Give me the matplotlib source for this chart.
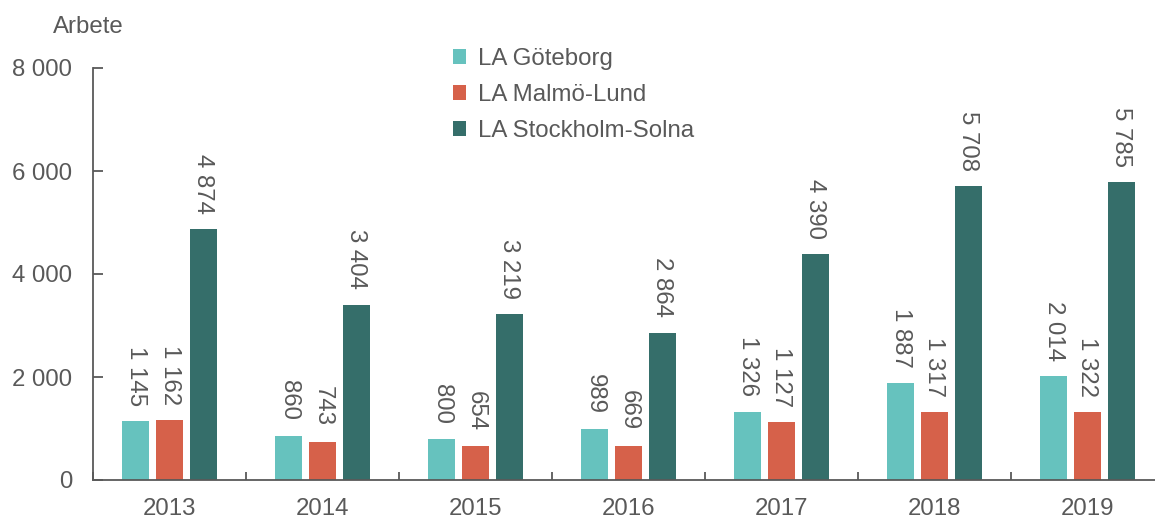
import numpy as np
import matplotlib.pyplot as plt

plt.rcParams['font.family'] = ['Liberation Sans', 'DejaVu Sans']

years = ['2013', '2014', '2015', '2016', '2017', '2018', '2019']
goteborg = [1145, 860, 800, 989, 1326, 1887, 2014]
malmo = [1162, 743, 654, 669, 1127, 1317, 1322]
stockholm = [4874, 3404, 3219, 2864, 4390, 5708, 5785]
series_names = ['LA Göteborg', 'LA Malmö-Lund', 'LA Stockholm-Solna']
colors = ['#66C2BE', '#D6614A', '#356E6A']

grey = '#595959'
fs = 17.3


def fmt(v):
    return f'{v:,}'.replace(',', ' ')


fig = plt.figure(figsize=(11.55, 5.18), dpi=100)
ax = fig.add_axes([93 / 1155, 38 / 518, 7 * 153 / 1155, 412 / 518])

x = np.arange(len(years))
width = 0.176
offset = 0.222
for i, (vals, name, c) in enumerate(zip([goteborg, malmo, stockholm], series_names, colors)):
    pos = x + (i - 1) * offset
    ax.bar(pos, vals, width, color=c, label=name)
    for p, v in zip(pos, vals):
        ax.annotate(fmt(v), (p, v), xytext=(0, 11), textcoords='offset points',
                    rotation=270, ha='center', va='bottom', fontsize=fs, color=grey)

ax.set_xlim(-0.5, 6.5)
ax.set_ylim(0, 8000)
ax.set_yticks([0, 2000, 4000, 6000, 8000])
ax.set_yticklabels([fmt(v) for v in [0, 2000, 4000, 6000, 8000]])
ax.set_xticks(x)
ax.set_xticklabels(years)
ax.set_xticks(np.arange(-0.5, 7, 1), minor=True)

for s in ['top', 'right']:
    ax.spines[s].set_visible(False)
for s in ['left', 'bottom']:
    ax.spines[s].set_color(grey)
    ax.spines[s].set_linewidth(1.3)

ax.tick_params(axis='y', direction='in', length=7, width=1.3, color=grey,
               labelcolor=grey, labelsize=fs, pad=15)
ax.tick_params(axis='x', which='major', length=0, labelcolor=grey, labelsize=fs, pad=13)
ax.tick_params(axis='x', which='minor', direction='in', length=6, width=1.3, color=grey)

fig.text(53 / 1155, 1 - 27 / 518, 'Arbete', fontsize=fs, color=grey, ha='left', va='center')

leg = ax.legend(loc='upper left', bbox_to_anchor=(453 / 1155, 1 - 48 / 518),
                bbox_transform=fig.transFigure, frameon=False, fontsize=fs,
                handlelength=0.55, handleheight=0.55, handletextpad=0.5,
                labelspacing=0.58, borderpad=0, borderaxespad=0)
for t in leg.get_texts():
    t.set_color(grey)

fig.savefig('out.png', dpi=100)
